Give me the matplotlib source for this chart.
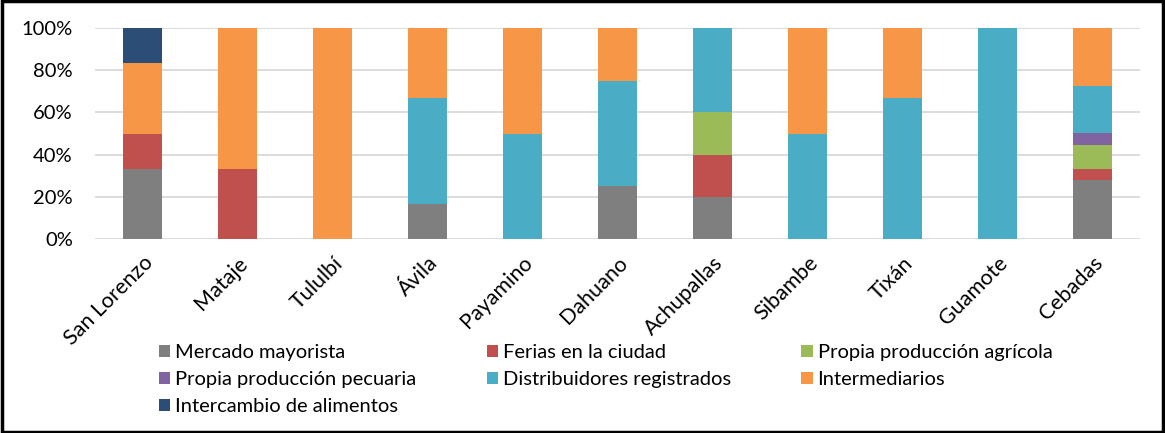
import numpy as np
import matplotlib.pyplot as plt
from matplotlib.patches import Rectangle

plt.rcParams['font.family'] = ['Lato', 'DejaVu Sans']

lugares = ["San Lorenzo", "Mataje", "Tululbí", "Ávila", "Payamino", "Dahuano",
           "Achupallas", "Sibambe", "Tixán", "Guamote", "Cebadas"]

# shares in percent, one list per source
mercado = [33.3, 0, 0, 16.7, 0, 25, 20, 0, 0, 0, 27.8]
ferias = [16.7, 33.3, 0, 0, 0, 0, 20, 0, 0, 0, 5.6]
agricola = [0, 0, 0, 0, 0, 0, 20, 0, 0, 0, 11.1]
pecuaria = [0, 0, 0, 0, 0, 0, 0, 0, 0, 0, 5.6]
distribuidores = [0, 0, 0, 50, 50, 50, 40, 50, 66.7, 100, 22.2]
intermediarios = [33.3, 66.7, 100, 33.3, 50, 25, 0, 50, 33.3, 0, 27.7]
intercambio = [16.7, 0, 0, 0, 0, 0, 0, 0, 0, 0, 0]

series = [
    ("Mercado mayorista", mercado, "#7F7F7F"),
    ("Ferias en la ciudad", ferias, "#C0504D"),
    ("Propia producción agrícola", agricola, "#9BBB59"),
    ("Propia producción pecuaria", pecuaria, "#8064A2"),
    ("Distribuidores registrados", distribuidores, "#4BACC6"),
    ("Intermediarios", intermediarios, "#F79646"),
    ("Intercambio de alimentos", intercambio, "#2C4D75"),
]

fs = 14.5

fig = plt.figure(figsize=(11.65, 4.33), dpi=100)
ax = fig.add_axes([95 / 1165, 1 - 239 / 433, 1045 / 1165, 211 / 433])

x = np.arange(len(lugares))
bottom = np.zeros(len(lugares))
handles = []
for name, vals, color in series:
    vals = np.array(vals, dtype=float)
    b = ax.bar(x, vals, 0.41, bottom=bottom, color=color, label=name, zorder=3)
    handles.append(b)
    bottom += vals

ax.set_xlim(-0.5, len(lugares) - 0.5)
ax.set_ylim(0, 100)
ax.set_yticks(range(0, 101, 20))
ax.set_yticklabels([f"{v}%" for v in range(0, 101, 20)], fontsize=fs)
ax.set_xticks(x)
ax.set_xticklabels(lugares, rotation=45, ha="right", rotation_mode="anchor", fontsize=15.5)
ax.tick_params(axis="y", length=0, pad=16)
ax.tick_params(axis="x", length=0, pad=10)
ax.grid(axis="y", color="#D9D9D9", linewidth=1.3, zorder=0)
for s in ax.spines.values():
    s.set_visible(False)

order = [0, 3, 6, 1, 4, 2, 5]
fig.legend([handles[i] for i in order], [series[i][0] for i in order],
           ncol=3, loc="upper left", bbox_to_anchor=(159 / 1165, 1 - 344 / 433),
           frameon=False, fontsize=fs, handlelength=0.55, handleheight=0.55,
           handletextpad=0.25, columnspacing=3.5, labelspacing=0.5,
           borderaxespad=0, borderpad=0)

fig.patches.append(Rectangle((0.002, 0.003), 0.996, 0.994, transform=fig.transFigure,
                             fill=False, edgecolor="black", linewidth=2.5))

fig.savefig("out.png", dpi=100)
